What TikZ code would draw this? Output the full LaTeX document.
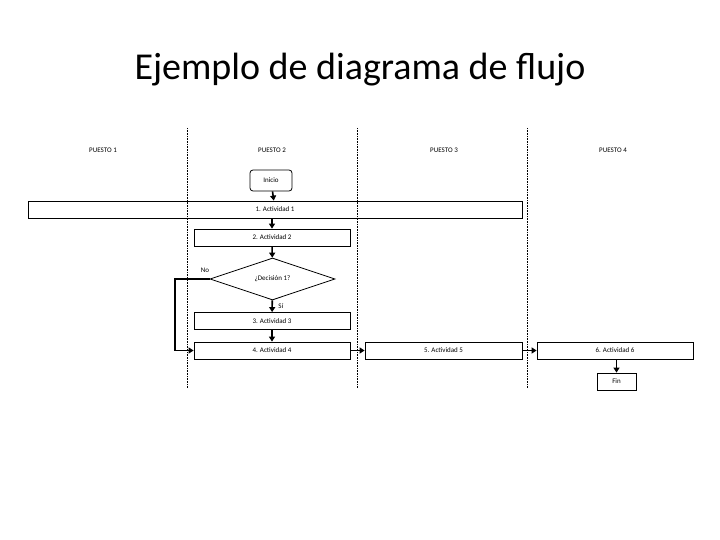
\documentclass[tikz,border=0pt]{standalone}
\usepackage{fontspec}
\setmainfont{Carlito}
\usetikzlibrary{shapes.geometric,arrows.meta}
\begin{document}
\begin{tikzpicture}[x=1pt,y=-1pt,
 box/.style={draw,thick,minimum height=17pt,font=\fontsize{7}{8}\selectfont,inner sep=0pt},
 conn/.style={line width=1.6pt,-{Triangle[length=5pt,width=6pt]}},
 lane/.style={densely dotted,line width=0.6pt},
 lab/.style={font=\fontsize{7}{8}\selectfont}]
\useasboundingbox (0,0) rectangle (720,540);
\node[font=\fontsize{38}{40}\selectfont] (title) at (360,70) {Ejemplo de diagrama de flujo};
\foreach \x/\n in {187/a,357/b,527/c}{\coordinate (t\n) at (\x,128); \coordinate (b\n) at (\x,388); \draw[lane] (t\n)--(b\n);}
\node[lab] (p1) at (103,150) {PUESTO 1};
\node[lab] (p2) at (272,150) {PUESTO 2};
\node[lab] (p3) at (444,150) {PUESTO 3};
\node[lab] (p4) at (613,150) {PUESTO 4};
\node[box,rounded corners=3pt,minimum width=42pt,minimum height=21pt] (ini) at (271,180.5) {Inicio};
\node[box,minimum width=494pt] (a1) at (275,209.5) {1. Actividad 1};
\node[box,minimum width=156pt] (a2) at (272,237.5) {2. Actividad 2};
\node[draw,thick,diamond,aspect=3,minimum width=125pt,minimum height=42pt,inner sep=0pt,font=\fontsize{7}{8}\selectfont] (d) at (272.5,279) {¿Decisión 1?};
\node[box,minimum width=156pt] (a3) at (272,321) {3. Actividad 3};
\node[box,minimum width=156pt] (a4) at (272,350.5) {4. Actividad 4};
\node[box,minimum width=157pt] (a5) at (443.5,350.5) {5. Actividad 5};
\node[box,minimum width=156pt] (a6) at (615,350.5) {6. Actividad 6};
\node[box,minimum width=39pt] (fin) at (616.5,381.5) {Fin};
\draw[conn] (ini)--(a1);
\draw[conn] (a1.south-|a2)--(a2);
\draw[conn] (a2)--(d);
\draw[conn] (d)--node[lab,right,pos=0.5,xshift=2pt]{Sí}(a3);
\draw[conn] (a3)--(a4);
\draw[conn] (d.west)-|(175,350.5)--(a4.west);
\node[lab] (no) at (205,270) {No};
\draw[conn] (a4)--(a5);
\draw[conn] (a5)--(a6);
\draw[conn] (a6.south-|fin)--(fin);
\end{tikzpicture}
\end{document}
